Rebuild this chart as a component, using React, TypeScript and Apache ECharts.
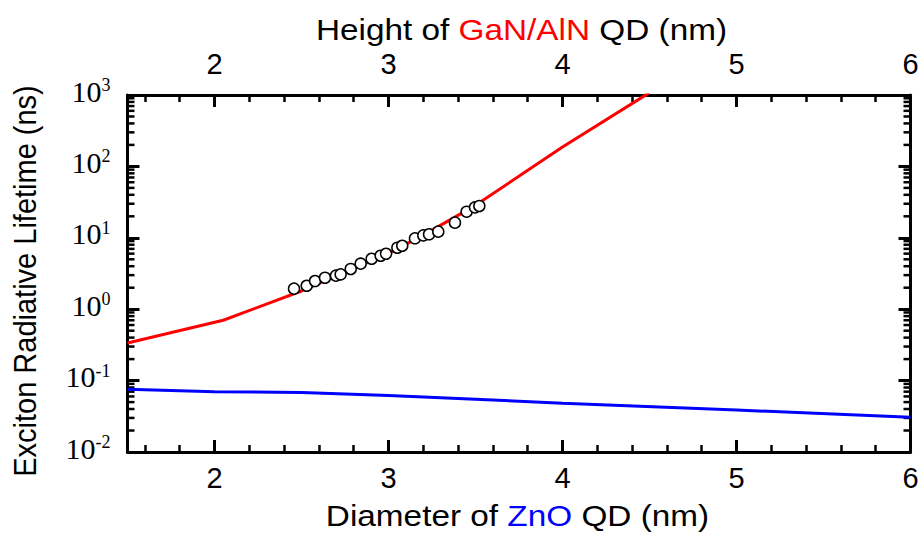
import React, { useEffect, useRef } from "react";
import * as echarts from "echarts";

// ---- data ----
const X_MIN = 1.5;
const X_MAX = 6;
const Y_MIN = 0.01;
const Y_MAX = 1000;

// red curve: GaN/AlN QD (top axis, height in nm)
const ganHeights = [1.5, 2.05, 2.5, 2.75, 3.0, 3.25, 3.5, 4.0, 4.5];
const ganLifetimes = [0.336, 0.7, 1.8, 3.3, 6.0, 12.8, 28.5, 187, 1080];

// blue curve: ZnO QD (bottom axis, diameter in nm)
const znoDiameters = [1.5, 2.0, 2.5, 3.0, 3.5, 4.0, 5.0, 6.0];
const znoLifetimes = [0.0755, 0.07, 0.068, 0.062, 0.0547, 0.0483, 0.0387, 0.0306];

// measured points (open circles)
const measuredHeights = [
  2.457, 2.53, 2.578, 2.635, 2.698, 2.725, 2.783, 2.84, 2.903, 2.955, 2.986,
  3.051, 3.079, 3.152, 3.2, 3.233, 3.286, 3.382, 3.449, 3.497, 3.522,
];
const measuredLifetimes = [
  1.94, 2.13, 2.48, 2.76, 2.95, 3.08, 3.66, 4.34, 5.09, 5.61, 5.98,
  7.26, 7.74, 9.84, 10.8, 11.2, 12.2, 16.3, 23.2, 26.7, 27.9,
];

// log-axis minor tick positions (2..9 in every decade)
const minorMultipliers = [2, 3, 4, 5, 6, 7, 8, 9];
const decades = [0.01, 0.1, 1, 10, 100];

// axis titles
const bottomTitle = "Diameter of {c|ZnO} QD (nm)";
const topTitle = "Height of {c|GaN/AlN} QD (nm)";
const leftTitle = "Exciton Radiative Lifetime (ns)";

const SANS = "'Liberation Sans', Arial, Helvetica, sans-serif";
const SERIF = "'Liberation Serif', 'Times New Roman', serif";

export default function App() {
  const ref = useRef<HTMLDivElement>(null);

  useEffect(() => {
    if (!ref.current) return;
    const chart = echarts.init(ref.current, null, { renderer: "svg" });

    const yMinorTicks: number[][] = [];
    decades.forEach((d) => minorMultipliers.forEach((m) => yMinorTicks.push([X_MIN, d * m])));

    const axisLine = { show: true, onZero: false, lineStyle: { color: "#000", width: 3 } };
    const axisTick = { show: true, inside: true, length: 12, lineStyle: { color: "#000", width: 3 } };
    const minorTick = { show: true, splitNumber: 5, length: 7, lineStyle: { color: "#000", width: 2.5 } };
    const xFmt = (v: number) => (Number.isInteger(v) ? String(v) : "");
    const yFmt = (v: number) => `{b|10}{s|${Math.round(Math.log10(v))}}`;
    const yRich = {
      b: { fontFamily: SERIF, fontSize: 30, color: "#000", lineHeight: 30, verticalAlign: "bottom", padding: [8, 0, 0, 0] },
      s: { fontFamily: SERIF, fontSize: 18, color: "#000", lineHeight: 18, verticalAlign: "top" },
    };
    const titleFont = { fontFamily: SANS, fontSize: 29.5, fill: "#000" };

    const option: any = {
      animation: false,
      backgroundColor: "#fff",
      grid: { left: 127.5, right: 12.5, top: 95, bottom: 82, containLabel: false },
      graphic: [
        {
          type: "text",
          x: 517.5,
          y: 516,
          scaleX: 1.13,
          style: {
            ...titleFont,
            text: bottomTitle,
            align: "center",
            verticalAlign: "middle",
            rich: { c: { fontFamily: SANS, fontSize: 29.5, fill: "#0000ff", color: "#0000ff" } },
          },
        },
        {
          type: "text",
          x: 521.5,
          y: 30,
          scaleX: 1.13,
          style: {
            ...titleFont,
            text: topTitle,
            align: "center",
            verticalAlign: "middle",
            rich: { c: { fontFamily: SANS, fontSize: 29.5, fill: "#ff0000", color: "#ff0000" } },
          },
        },
        {
          type: "text",
          x: 24.5,
          y: 281,
          rotation: Math.PI / 2,
          scaleY: 1.1,
          style: {
            fontFamily: SANS,
            fontSize: 29,
            fill: "#000",
            text: leftTitle,
            align: "center",
            verticalAlign: "middle",
          },
        },
      ],
      xAxis: [
        {
          type: "value",
          position: "bottom",
          min: X_MIN,
          max: X_MAX,
          minInterval: 1,
          maxInterval: 1,
          axisLine,
          axisTick,
          minorTick,
          splitLine: { show: false },
          axisLabel: { showMinLabel: false, formatter: xFmt, fontFamily: SANS, fontSize: 29, color: "#000", margin: 11 },
        },
        {
          type: "value",
          position: "top",
          min: X_MIN,
          max: X_MAX,
          minInterval: 1,
          maxInterval: 1,
          axisLine,
          axisTick,
          minorTick,
          splitLine: { show: false },
          axisLabel: { showMinLabel: false, formatter: xFmt, fontFamily: SANS, fontSize: 29, color: "#000", margin: 17 },
        },
      ],
      yAxis: [
        {
          type: "log",
          logBase: 10,
          position: "left",
          min: Y_MIN,
          max: Y_MAX,
          axisLine,
          axisTick,
          splitLine: { show: false },
          axisLabel: { formatter: yFmt, rich: yRich, margin: 17, padding: [0, 0, 8, 0] },
        },
        {
          type: "log",
          logBase: 10,
          position: "right",
          min: Y_MIN,
          max: Y_MAX,
          axisLine,
          axisTick,
          splitLine: { show: false },
          axisLabel: { show: false },
        },
      ],
      series: [
        {
          type: "custom",
          xAxisIndex: 0,
          yAxisIndex: 0,
          silent: true,
          clip: false,
          data: yMinorTicks,
          encode: { x: 0, y: 1 },
          renderItem: (_params: any, api: any) => {
            const v = api.value(1);
            const l = api.coord([X_MIN, v]);
            const r = api.coord([X_MAX, v]);
            const st = { stroke: "#000", lineWidth: 2.5 };
            return {
              type: "group",
              children: [
                { type: "line", shape: { x1: l[0], y1: l[1], x2: l[0] + 7, y2: l[1] }, style: st },
                { type: "line", shape: { x1: r[0] - 7, y1: r[1], x2: r[0], y2: r[1] }, style: st },
              ],
            };
          },
        },
        {
          name: "ZnO",
          type: "line",
          xAxisIndex: 0,
          yAxisIndex: 0,
          data: znoDiameters.map((x, i) => [x, znoLifetimes[i]]),
          showSymbol: false,
          symbol: "none",
          lineStyle: { color: "#0000ff", width: 3 },
          clip: true,
        },
        {
          name: "GaN/AlN",
          type: "line",
          xAxisIndex: 1,
          yAxisIndex: 0,
          data: ganHeights.map((x, i) => [x, ganLifetimes[i]]),
          showSymbol: false,
          symbol: "none",
          lineStyle: { color: "#ff0000", width: 3 },
          clip: true,
        },
        {
          name: "measured",
          type: "scatter",
          xAxisIndex: 1,
          yAxisIndex: 0,
          data: measuredHeights.map((x, i) => [x, measuredLifetimes[i]]),
          symbol: "circle",
          symbolSize: 11,
          itemStyle: { color: "#fff", borderColor: "#000", borderWidth: 1.5, opacity: 1 },
          z: 5,
        },
      ],
    };

    chart.setOption(option);
    return () => chart.dispose();
  }, []);

  return (
    <div
      ref={ref}
      style={{ position: "absolute", left: 0, top: 0, width: 923, height: 534, background: "#fff" }}
    />
  );
}
